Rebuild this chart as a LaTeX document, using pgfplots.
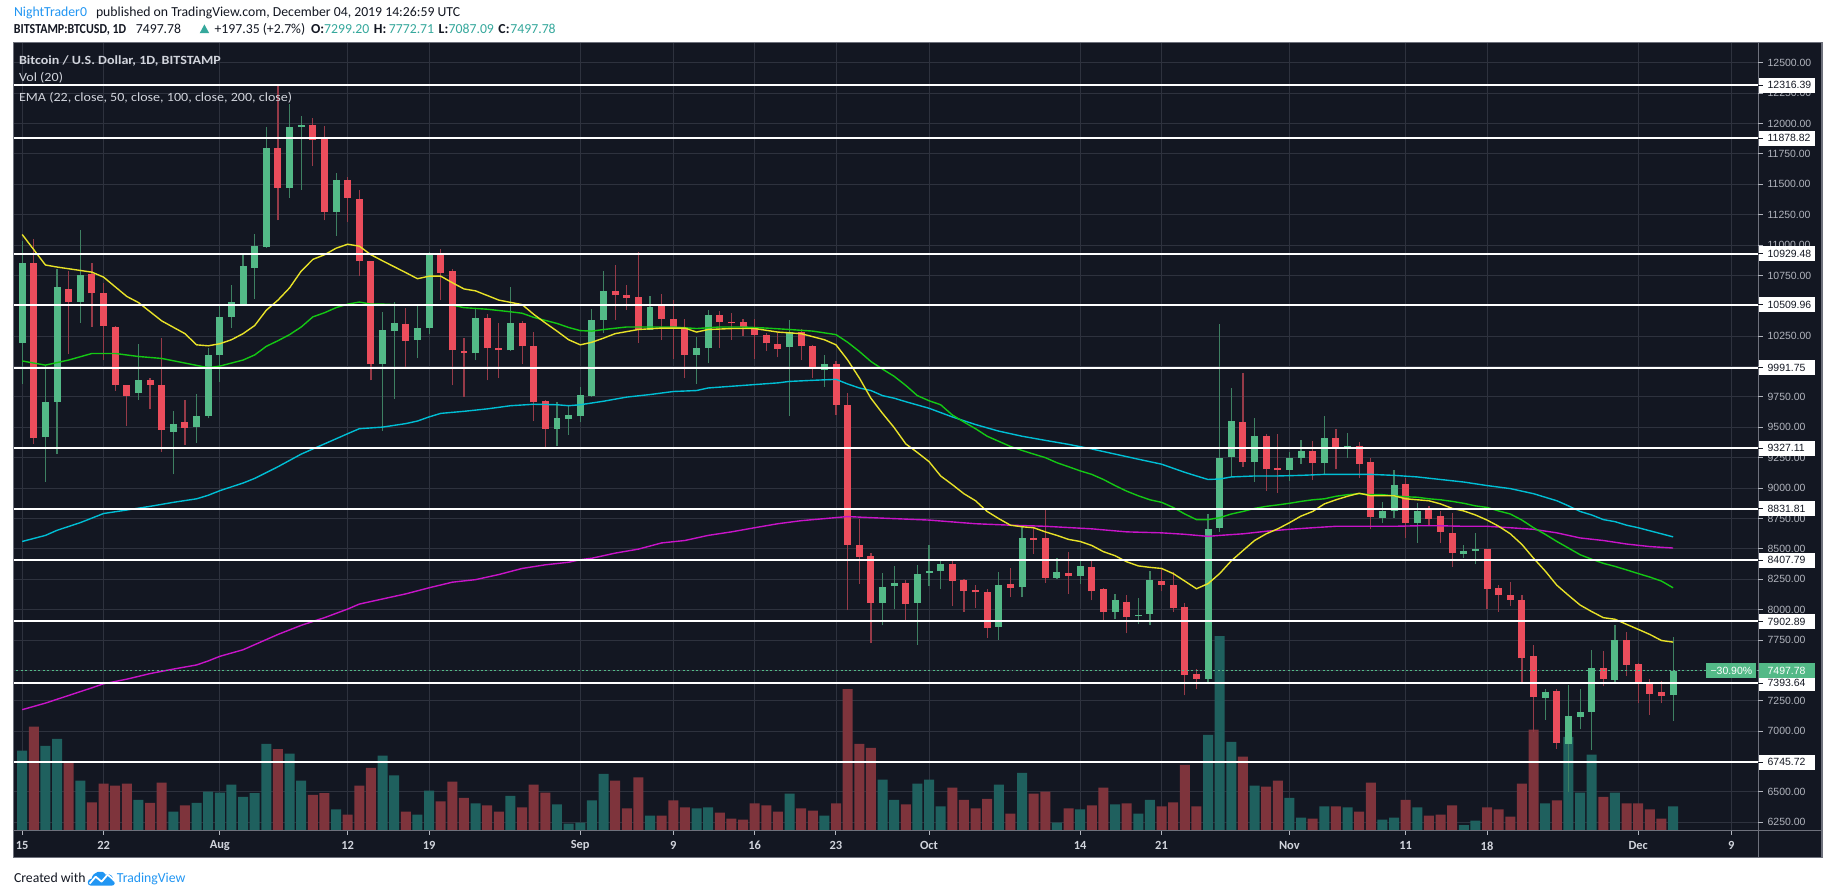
\documentclass[border=0pt]{standalone}
\usepackage{fontspec}
\usepackage{pgfplots}
\usepackage{pgfplotstable}
\pgfplotsset{compat=1.18}
\setmainfont{Carlito}
\newfontfamily\carl{Carlito}
\newfontfamily\libs{Liberation Sans}
\definecolor{bgc}{RGB}{19,23,34}
\definecolor{gridc}{RGB}{46,50,62}
\definecolor{upc}{RGB}{83,185,135}
\definecolor{dnc}{RGB}{235,77,92}
\definecolor{upw}{RGB}{62,128,98}
\definecolor{dnw}{RGB}{150,58,72}
\definecolor{volup}{RGB}{31,96,94}
\definecolor{voldn}{RGB}{126,52,60}
\definecolor{emaA}{RGB}{232,226,40}
\definecolor{emaB}{RGB}{20,200,20}
\definecolor{emaC}{RGB}{0,190,212}
\definecolor{emaD}{RGB}{200,20,200}
\definecolor{txtc}{RGB}{209,212,220}
\definecolor{axc}{RGB}{178,181,190}
\definecolor{borderc}{RGB}{110,113,124}
\definecolor{tvblue}{RGB}{33,150,243}
\definecolor{tvteal}{RGB}{53,168,156}
\definecolor{darktxt}{RGB}{19,23,34}
\newcommand\pfont{\libs\fontsize{5.25bp}{6bp}\selectfont}
\newcommand\dfont{\carl\bfseries\fontsize{6.25bp}{7bp}\selectfont}
\newcommand\hfont{\carl\fontsize{6.9bp}{8bp}\selectfont}
\newcommand\lfont{\carl\fontsize{6.3bp}{7bp}\selectfont}

% day index (0 = 15 Jul 2019), open, high, low, close, volume (relative)
\pgfplotstableread{
d o h l c v
0 10192 11037 9857 10849 158
1 10849 11049 9364 9414 205
2 9418 10012 9050 9707 167
3 9711 10807 9280 10652 181
4 10640 10786 10104 10535 135
5 10535 11125 10359 10752 99
6 10765 10849 10326 10602 56
7 10606 10690 10054 10334 93
8 10322 10330 9803 9849 89
9 9845 9850 9510 9757 93
10 9782 10188 9728 9887 61
11 9887 9908 9648 9849 55
12 9849 10238 9301 9481 95
13 9464 9636 9113 9531 38
14 9540 9728 9356 9498 50
15 9502 9778 9372 9594 55
16 9594 10150 9573 10092 77
17 10092 10497 9874 10409 75
18 10409 10669 10317 10535 91
19 10518 10924 10506 10828 67
20 10811 11087 10556 10991 74
21 10987 11969 10974 11802 171
22 11802 12321 11204 11472 161
23 11472 12157 11388 11973 152
24 11973 12061 11455 11986 99
25 11990 12049 11651 11865 71
26 11869 11978 11204 11275 74
27 11275 11593 11078 11534 42
28 11534 11559 11191 11388 32
29 11380 11451 10744 10865 89
30 10865 10870 9887 10020 124
31 10020 10447 9468 10305 148
32 10292 10535 9736 10359 109
33 10351 10480 9979 10209 38
34 10217 10518 10067 10317 32
35 10317 10945 10271 10937 79
36 10937 10966 10547 10773 58
37 10786 10807 9845 10133 97
38 10125 10238 9753 10108 65
39 10108 10481 10054 10401 54
40 10401 10430 9887 10150 50
41 10154 10359 9908 10133 38
42 10133 10656 10128 10359 69
43 10359 10376 10020 10167 46
44 10171 10288 9552 9711 91
45 9719 9725 9318 9489 75
46 9489 9707 9343 9581 52
47 9569 9686 9439 9598 14
48 9590 9836 9540 9770 16
49 9761 10472 9749 10384 60
50 10384 10786 10276 10623 112
51 10623 10836 10384 10585 99
52 10589 10673 10464 10564 44
53 10572 10945 10196 10305 105
54 10305 10581 10300 10493 30
55 10506 10598 10221 10393 30
56 10393 10547 10062 10313 60
57 10322 10393 9908 10096 46
58 10096 10242 9857 10154 44
59 10154 10468 10029 10426 46
60 10426 10460 10150 10363 36
61 10368 10443 10221 10355 24
62 10363 10388 10255 10322 22
63 10322 10388 10062 10263 54
64 10263 10276 10129 10192 50
65 10188 10276 10075 10146 38
66 10158 10384 9594 10284 73
67 10284 10313 10054 10167 44
68 10171 10179 9908 9979 40
69 9970 10096 9836 10025 30
70 10025 10046 9602 9686 54
71 9686 9786 7996 8536 279
72 8536 8745 8214 8431 171
73 8444 8465 7725 8055 163
74 8055 8298 7871 8185 101
75 8193 8360 8005 8222 61
76 8222 8247 7900 8046 52
77 8055 8369 7712 8293 93
78 8298 8528 8193 8318 101
79 8318 8402 8172 8377 48
80 8377 8415 8034 8235 85
81 8247 8250 7984 8151 61
82 8159 8201 8013 8143 44
83 8147 8172 7766 7850 63
84 7858 8310 7754 8206 91
85 8214 8339 8101 8180 34
86 8185 8695 8101 8590 114
87 8590 8674 8456 8574 73
88 8590 8820 8222 8264 77
89 8264 8423 8256 8306 16
90 8302 8477 8130 8281 44
91 8277 8402 8214 8360 42
92 8352 8415 8076 8151 50
93 8168 8180 7900 7984 85
94 7984 8130 7921 8076 52
95 8067 8122 7804 7942 54
96 7946 8097 7879 7959 34
97 7963 8318 7871 8243 61
98 8235 8339 8151 8206 48
99 8206 8306 7984 8017 56
100 8025 8055 7294 7461 130
101 7469 7511 7344 7432 48
102 7428 8787 7390 8665 189
103 8674 10347 8640 9251 383
104 9259 9820 9092 9556 175
105 9548 9949 9176 9218 146
106 9218 9573 9050 9427 89
107 9427 9448 8979 9155 87
108 9167 9448 8958 9146 99
109 9151 9301 9059 9251 65
110 9251 9397 9197 9305 26
111 9305 9385 9067 9205 24
112 9205 9594 9113 9410 48
113 9410 9485 9155 9318 48
114 9318 9456 9251 9343 46
115 9343 9377 9084 9197 38
116 9218 9251 8661 8766 95
117 8753 8883 8716 8812 22
118 8808 9146 8758 9025 26
119 9034 9084 8590 8716 61
120 8716 8875 8549 8812 46
121 8820 8850 8695 8749 30
122 8770 8808 8549 8640 32
123 8632 8799 8352 8465 50
124 8456 8536 8423 8486 11
125 8486 8632 8373 8498 20
126 8498 8502 8005 8168 46
127 8180 8201 7984 8118 42
128 8122 8231 8026 8080 28
129 8080 8118 7386 7599 93
130 7616 7712 6993 7281 199
131 7273 7348 7093 7319 54
132 7327 7348 6855 6905 60
133 6896 7377 6499 7122 185
134 7118 7344 7014 7156 75
135 7160 7670 6842 7520 150
136 7516 7658 7369 7432 67
137 7424 7871 7407 7750 75
138 7750 7813 7453 7545 54
139 7553 7561 7231 7407 54
140 7407 7428 7135 7307 42
141 7323 7411 7231 7286 24
142 7299.20 7772.71 7087.09 7497.78 48
}\candles

\begin{document}
\begin{tikzpicture}
\begin{scope}[x=0.5bp,y=-0.5bp]
  \path[use as bounding box, fill=white] (0,0) rectangle (1828,898);
  \fill[bgc] (6.7,43) rectangle (1822,861);
  \coordinate (axsw) at (6.7,834);
\end{scope}
\begin{axis}[
  at={(axsw)}, anchor=south west,
  scale only axis, width=875.65bp, height=395.5bp,
  xmin=-0.737, xmax=149.33, ymin=6180, ymax=12664,
  scaled x ticks=false, scaled y ticks=false,
  axis line style={draw=none}, tick style={draw=none},
  xtick={0,7,17,28,35,48,56,63,70,78,91,98,109,119,126,139,147},
  ytick={6250,6500,...,12500},
  xticklabels={}, yticklabels={},
  grid=major, major grid style={draw=gridc, line width=0.5bp},
  axis background/.style={fill=bgc},
]
% volume
\addplot[ybar, bar width=0.86, bar shift=0pt, fill=volup, draw=none,
  restrict expr to domain={\thisrow{c}-\thisrow{o}}{0:1000000}]
  table[x=d, y expr={6180+4.182*\thisrow{v}}] {\candles};
\addplot[ybar, bar width=0.86, bar shift=0pt, fill=voldn, draw=none,
  restrict expr to domain={\thisrow{c}-\thisrow{o}}{-1000000:-0.0001}]
  table[x=d, y expr={6180+4.182*\thisrow{v}}] {\candles};
% wicks
\addplot[draw=none, mark=none,
  restrict expr to domain={\thisrow{c}-\thisrow{o}}{0:1000000},
  error bars/.cd, y dir=plus, y explicit, error mark=none,
  error bar style={draw=upw, line width=0.6bp}]
  table[x=d, y=l, y error plus expr={\thisrow{h}-\thisrow{l}}] {\candles};
\addplot[draw=none, mark=none,
  restrict expr to domain={\thisrow{c}-\thisrow{o}}{-1000000:-0.0001},
  error bars/.cd, y dir=plus, y explicit, error mark=none,
  error bar style={draw=dnw, line width=0.6bp}]
  table[x=d, y=l, y error plus expr={\thisrow{h}-\thisrow{l}}] {\candles};
% bodies
\addplot[draw=none, mark=none,
  restrict expr to domain={\thisrow{c}-\thisrow{o}}{0:1000000},
  error bars/.cd, y dir=plus, y explicit, error mark=none,
  error bar style={draw=upc, line width=3.5bp}]
  table[x=d, y=o, y error plus expr={max(\thisrow{c}-\thisrow{o},8)}] {\candles};
\addplot[draw=none, mark=none,
  restrict expr to domain={\thisrow{c}-\thisrow{o}}{-1000000:-0.0001},
  error bars/.cd, y dir=plus, y explicit, error mark=none,
  error bar style={draw=dnc, line width=3.5bp}]
  table[x=d, y=c, y error plus expr={max(\thisrow{o}-\thisrow{c},8)}] {\candles};
% EMA 200
\addplot[emaD, line width=0.7bp] coordinates {
(0,7177) (2,7231) (4,7294) (6,7357) (7,7390) (9,7428) (11,7474) (13,7511) (15,7545) (16,7578) (17,7616) (19,7670) (20,7712) (22,7796) (24,7871) (26,7934) (28,8005) (29,8046) (31,8088) (33,8130) (35,8180) (37,8226) (39,8247) (41,8289) (43,8339) (45,8369) (47,8390) (48,8411) (49,8423) (51,8465) (53,8498) (55,8549) (57,8569) (59,8611) (61,8640) (63,8674) (65,8707) (67,8732) (69,8749) (71,8766) (73,8757) (75,8749) (78,8737) (82,8707) (85,8695) (88,8686) (92,8665) (95,8640) (98,8632) (100,8620) (102,8603) (103,8611) (105,8624) (107,8645) (109,8661) (111,8674) (113,8686) (115,8686) (118,8686) (120,8690) (122,8690) (124,8686) (126,8686) (128,8674) (130,8661) (132,8632) (134,8590) (136,8569) (138,8540) (140,8519) (142,8507)};
% EMA 100
\addplot[emaC, line width=0.7bp] coordinates {
(0,8561) (2,8611) (3,8653) (5,8716) (7,8791) (9,8820) (11,8850) (13,8883) (15,8912) (16,8941) (17,8979) (19,9042) (20,9080) (22,9176) (24,9280) (26,9364) (28,9448) (29,9489) (31,9502) (33,9531) (34,9552) (35,9586) (36,9615) (38,9632) (40,9652) (42,9678) (44,9690) (46,9686) (47,9678) (48,9686) (50,9715) (52,9749) (54,9770) (56,9795) (58,9803) (59,9824) (62,9845) (65,9866) (66,9878) (68,9887) (70,9895) (71,9857) (72,9824) (73,9803) (74,9761) (75,9740) (76,9711) (78,9657) (80,9586) (82,9523) (84,9469) (86,9427) (88,9393) (90,9360) (92,9322) (94,9280) (96,9238) (98,9197) (100,9130) (101,9100) (102,9071) (103,9075) (104,9092) (106,9100) (108,9100) (110,9105) (112,9113) (114,9113) (116,9113) (118,9105) (120,9092) (122,9071) (124,9050) (126,9021) (128,8996) (129,8975) (130,8954) (132,8896) (133,8854) (134,8808) (135,8779) (136,8741) (137,8724) (138,8695) (139,8674) (140,8649) (141,8624) (142,8599)};
% EMA 50
\addplot[emaB, line width=0.7bp] coordinates {
(0,10046) (2,10012) (4,10054) (6,10108) (8,10108) (10,10083) (12,10067) (14,10029) (16,9991) (17,10004) (19,10054) (20,10096) (21,10167) (22,10213) (23,10263) (24,10326) (25,10409) (26,10443) (27,10485) (28,10514) (29,10531) (30,10514) (31,10514) (33,10506) (35,10510) (37,10506) (38,10485) (40,10472) (42,10451) (43,10439) (44,10405) (46,10355) (47,10322) (48,10296) (49,10292) (50,10305) (52,10326) (54,10326) (56,10326) (58,10313) (60,10326) (62,10326) (64,10317) (66,10305) (68,10292) (70,10263) (71,10200) (72,10125) (73,10042) (74,9979) (75,9920) (76,9845) (77,9761) (78,9719) (79,9686) (80,9602) (81,9544) (82,9489) (83,9427) (84,9385) (85,9343) (86,9310) (87,9280) (88,9251) (89,9209) (90,9176) (91,9142) (92,9113) (93,9071) (94,9021) (95,8975) (96,8937) (97,8904) (98,8883) (99,8841) (100,8787) (101,8741) (102,8741) (103,8757) (104,8787) (105,8808) (106,8833) (107,8850) (108,8862) (109,8875) (110,8891) (111,8904) (112,8912) (113,8933) (114,8946) (115,8954) (116,8946) (117,8946) (118,8937) (119,8929) (120,8925) (121,8912) (122,8904) (123,8891) (124,8875) (125,8854) (126,8841) (127,8812) (128,8787) (129,8737) (130,8674) (131,8620) (132,8561) (133,8507) (134,8452) (135,8415) (136,8381) (137,8356) (138,8327) (139,8297) (140,8268) (141,8235) (142,8180)};
% EMA 22
\addplot[emaA, line width=0.7bp] coordinates {
(0,11087) (2,10836) (3,10819) (6,10777) (7,10736) (9,10577) (10,10527) (12,10376) (14,10271) (15,10179) (16,10171) (17,10188) (18,10221) (19,10271) (20,10338) (21,10464) (22,10547) (23,10648) (24,10786) (25,10882) (26,10920) (27,10974) (28,11007) (29,10991) (30,10920) (31,10870) (33,10773) (34,10723) (35,10744) (36,10744) (37,10690) (38,10639) (39,10623) (41,10547) (43,10510) (44,10430) (45,10359) (46,10292) (47,10221) (48,10179) (49,10200) (50,10234) (51,10271) (53,10305) (55,10317) (57,10317) (58,10284) (59,10305) (61,10313) (63,10313) (65,10284) (67,10271) (69,10221) (70,10179) (71,10054) (72,9907) (73,9740) (74,9615) (75,9498) (76,9364) (77,9293) (78,9218) (79,9100) (80,9029) (81,8954) (82,8896) (83,8808) (84,8749) (85,8695) (86,8682) (87,8674) (88,8640) (89,8611) (90,8578) (91,8561) (92,8528) (93,8477) (94,8444) (95,8394) (96,8360) (97,8348) (98,8339) (99,8297) (100,8235) (101,8172) (102,8214) (103,8297) (104,8402) (105,8486) (106,8569) (107,8624) (108,8665) (109,8715) (110,8770) (111,8808) (112,8870) (113,8904) (114,8933) (115,8958) (116,8937) (117,8937) (118,8937) (119,8912) (120,8904) (121,8896) (122,8870) (123,8833) (124,8812) (125,8779) (126,8737) (127,8686) (128,8624) (129,8536) (130,8423) (131,8318) (132,8201) (133,8118) (134,8038) (135,7984) (136,7934) (137,7921) (138,7879) (139,7838) (140,7796) (141,7746) (142,7733)};
% horizontal levels
\pgfplotsinvokeforeach{12316.39,11878.82,10929.48,10509.96,9991.75,9327.11,8831.81,8407.79,7902.89,7393.64,6745.72}{
  \addplot[white, line width=1bp] coordinates {(-2,#1) (152,#1)};
}
% last price
\addplot[upc, line width=0.5bp, dash pattern=on 1bp off 1.2bp] coordinates {(-2,7497.78) (152,7497.78)};
\end{axis}
\begin{scope}[x=0.5bp,y=-0.5bp]
  \draw[borderc, line width=0.6bp] (6.7,43) rectangle (1822,861);
  \draw[borderc, line width=0.6bp] (6.7,834) -- (1822,834);
  \draw[borderc, line width=0.6bp] (1758,43) -- (1758,861);
  % price scale
  \foreach \k in {0,...,25}{
    \pgfmathtruncatemacro\pv{12500-250*\k}
    \pgfmathsetmacro\yy{63+30.4975*\k}
    \draw[axc, line width=0.5bp] (1758,\yy) -- (1763,\yy);
    \node[anchor=west, inner sep=0, text=axc, font=\pfont] at (1767,\yy) {\pv.00};
  }
  \foreach \L in {12316.39,11878.82,10929.48,10509.96,9991.75,9327.11,8831.81,8407.79,7902.89,7393.64,6745.72}{
    \pgfmathsetmacro\yy{63+(12500-\L)*0.12199}
    \fill[white] (1759,\yy-7.5) rectangle (1815,\yy+7.5);
    \draw[darktxt, line width=0.5bp] (1758,\yy) -- (1763,\yy);
    \node[anchor=west, inner sep=0, text=darktxt, font=\pfont] at (1767,\yy) {\L};
  }
  \fill[upc] (1759,665.7) rectangle (1815,680.7);
  \node[anchor=west, inner sep=0, text=white, font=\pfont] at (1767,673.2) {7497.78};
  \fill[upc] (1706,665.7) rectangle (1756,680.7);
  \node[anchor=center, inner sep=0, text=white, font=\pfont] at (1731,673.2) {−30.90\%};
  % date scale
  \foreach \d/\t in {0/15,7/22,17/Aug,28/12,35/19,48/Sep,56/9,63/16,70/23,78/Oct,91/14,98/21,109/Nov,119/11,126/18,139/Dec,147/9}{
    \pgfmathsetmacro\xx{15.3+11.67*\d}
    \draw[axc, line width=0.5bp] (\xx,834) -- (\xx,838);
    \node[anchor=center, inner sep=0, text=txtc, font=\dfont] at (\xx,849) {\t};
  }
  % legend
  \node[anchor=base west, inner sep=0, text=txtc, font=\lfont\bfseries, xscale=1.12] at (11.7,65) {Bitcoin / U.S. Dollar, 1D, BITSTAMP};
  \node[anchor=base west, inner sep=0, text=txtc, font=\lfont, xscale=1.12] at (11.7,81.5) {Vol (20)};
  \node[anchor=base west, inner sep=0, text=txtc, font=\lfont, xscale=1.12] at (11.7,101.5) {EMA (22, close, 50, close, 100, close, 200, close)};
  % header
  \node[anchor=base west, inner sep=0, text=tvblue, font=\hfont] at (6.7,16.7) {NightTrader0};
  \node[anchor=base west, inner sep=0, text=darktxt, font=\hfont] at (89,16.7) {published on TradingView.com, December 04, 2019 14:26:59 UTC};
  \node[anchor=base west, inner sep=0, text=darktxt, font=\hfont\bfseries, xscale=0.87] at (6.7,33.3) {BITSTAMP:BTCUSD, 1D};
  \node[anchor=base west, inner sep=0, text=darktxt, font=\hfont] at (129,33.3) {7497.78};
  \fill[tvteal] (193.5,33.3) -- (203,33.3) -- (198.2,24.5) -- cycle;
  \node[anchor=base west, inner sep=0, text=darktxt, font=\hfont] at (208,33.3) {+197.35 (+2.7\%)};
  \node[anchor=base west, inner sep=0, text=darktxt, font=\hfont\bfseries] at (305,33.3) {O:};
  \node[anchor=base west, inner sep=0, text=tvteal, font=\hfont] at (318,33.3) {7299.20};
  \node[anchor=base west, inner sep=0, text=darktxt, font=\hfont\bfseries] at (368,33.3) {H:};
  \node[anchor=base west, inner sep=0, text=tvteal, font=\hfont] at (383,33.3) {7772.71};
  \node[anchor=base west, inner sep=0, text=darktxt, font=\hfont\bfseries] at (433,33.3) {L:};
  \node[anchor=base west, inner sep=0, text=tvteal, font=\hfont] at (443,33.3) {7087.09};
  \node[anchor=base west, inner sep=0, text=darktxt, font=\hfont\bfseries] at (493,33.3) {C:};
  \node[anchor=base west, inner sep=0, text=tvteal, font=\hfont] at (505,33.3) {7497.78};
  % footer
  \node[anchor=base west, inner sep=0, text=darktxt, font=\hfont] at (6.7,885.5) {Created with};
  \fill[tvblue] (84,889) .. controls (80,889) and (80,882) .. (85,882)
     .. controls (86,875) and (96,872) .. (99,878)
     .. controls (103,876) and (108,880) .. (106,884)
     .. controls (109,885) and (109,889) .. (105,889) -- cycle;
  \draw[white, line width=0.9bp, line join=round] (83,887) -- (89,880) -- (95,885) -- (101,878) -- (107,883);
  \node[anchor=base west, inner sep=0, text=tvblue, font=\hfont] at (110,885.5) {TradingView};
\end{scope}
\end{tikzpicture}
\end{document}
